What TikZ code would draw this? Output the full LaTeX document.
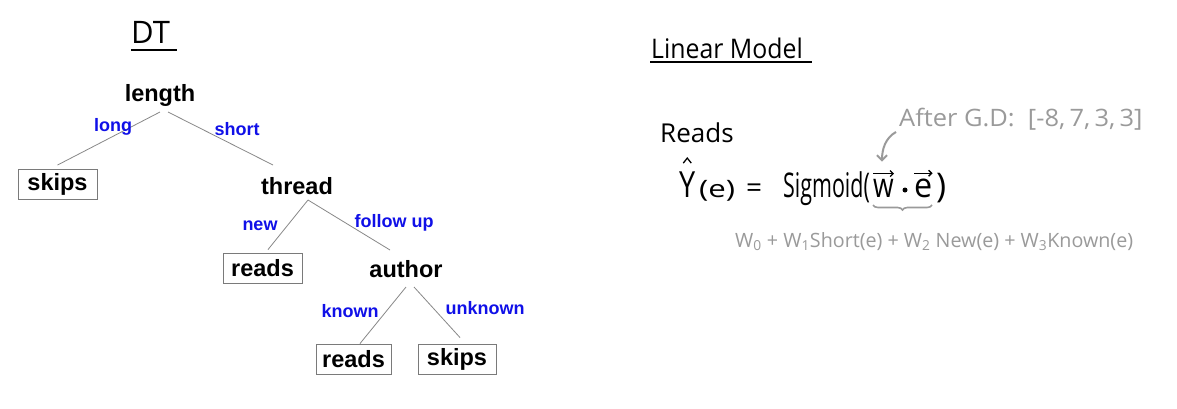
\documentclass[tikz,border=0pt]{standalone}
\usepackage{fontspec}
\setmainfont{Liberation Sans}
\newfontfamily\hand{Open Sans}
\usetikzlibrary{arrows.meta,decorations.pathreplacing}
\definecolor{edgegray}{HTML}{888888}
\definecolor{boxgray}{HTML}{7A7A7A}
\definecolor{handgray}{HTML}{9A9A9A}
\definecolor{lblue}{HTML}{1010E8}
\tikzset{
  tnode/.style={font=\fontsize{23.5}{24}\selectfont\bfseries, inner sep=0pt},
  leaf/.style={draw=boxgray, line width=0.9pt, font=\fontsize{23.5}{24}\selectfont\bfseries, inner sep=0pt, minimum height=30pt},
  elabel/.style={font=\fontsize{18}{18}\selectfont\bfseries, text=lblue, inner sep=0pt},
  edge/.style={draw=edgegray, line width=0.8pt},
  hw/.style={font=\hand, inner sep=0pt, anchor=base west},
  hwgray/.style={hw, text=handgray},
  vecarrow/.style={line width=1.3pt, -{Straight Barb[length=3pt,width=6pt]}},
}
\newcommand{\fsz}[1]{\fontsize{#1}{#1}\selectfont}
\begin{document}
\begin{tikzpicture}[x=1pt,y=-1pt]
\useasboundingbox[fill=white] (0,0) rectangle (1177,408);
% ---------- DT title ----------
\node[hw, font=\hand\fsz{31}] (dt) at (131,43) {DT};
\coordinate (dtl) at (131,50);
\coordinate (dtr) at (177,50);
\draw[line width=2.4pt] (dtl) -- (dtr);
% ---------- tree ----------
\node[tnode] (length) at (160,95) {length};
\node[leaf, minimum width=79pt] (skipsA) at (57.5,184.5) {skips};
\node[tnode] (thread) at (297,186) {thread};
\node[leaf, minimum width=79pt] (readsA) at (262.5,268) {reads};
\node[tnode] (author) at (406,269) {author};
\node[leaf, minimum width=75pt] (readsB) at (353.5,359) {reads};
\node[leaf, minimum width=78pt] (skipsB) at (457,359) {skips};
\draw[edge] ([shift={(0,17)}]length.center) -- ([shift={(0,-4)}]skipsA.north);
\draw[edge] ([shift={(8,17)}]length.center) -- ([shift={(-24,-21)}]thread.center);
\draw[edge] ([shift={(11,14)}]thread.center) -- ([shift={(5.5,-3)}]readsA.north);
\draw[edge] ([shift={(11,14)}]thread.center) -- ([shift={(-16,-19)}]author.center);
\draw[edge] ([shift={(0,18)}]author.center) -- ([shift={(6.5,0)}]readsB.north);
\draw[edge] ([shift={(8,18)}]author.center) -- ([shift={(3,-6)}]skipsB.north);
\node[elabel] (lLong) at (113,127) {long};
\node[elabel] (lShort) at (237,129) {short};
\node[elabel] (lNew) at (260,226) {new};
\node[elabel] (lFollow) at (394,223) {follow up};
\node[elabel] (lKnown) at (350,311) {known};
\node[elabel] (lUnknown) at (485,308) {unknown};
% ---------- Linear model ----------
\node[hw, font=\hand\fsz{27}] (lm) at (651,58) {\scalebox{0.92}[1]{Linear Model}};
\coordinate (lml) at (650,62);
\coordinate (lmr) at (812,62);
\draw[line width=2pt] (lml) -- (lmr);
\node[hw, font=\hand\fsz{26}] (reads) at (660,142) {Reads};
\node[hwgray, font=\hand\fsz{24}] (after) at (899,126) {\scalebox{1.06}[1]{After G.D:\ \ [-8,\,7,\,3,\,3]}};
% equation
\node[hw, font=\hand\fsz{36}] (Y) at (679,197) {\scalebox{0.8}[1]{Y}};
\draw[line width=1.3pt] ([shift={(-4,-8)}]Y.north) -- ([shift={(0,-13)}]Y.north) -- ([shift={(4,-8)}]Y.north);
\node[hw, font=\hand\fsz{24}] (Ye) at (699,197) {\scalebox{1.3}[1]{(e)}};
\node[hw, font=\hand\fsz{28}] (eq) at (746,197) {=};
\node[hw, font=\hand\fsz{34}] (sig) at (783,197) {\scalebox{0.63}[1]{Sigmoid(}};
\node[hw, font=\hand\fsz{34}] (w) at (873,197) {\scalebox{0.78}[1]{w}};
\node[circle, fill=black, inner sep=0pt, minimum size=5pt] (dot) at (905,190) {};
\node[hw, font=\hand\fsz{34}] (e) at (914,197) {\scalebox{0.95}[1]{e}};
\node[hw, font=\hand\fsz{34}] (rp) at (936,197) {)};
\draw[vecarrow] ([yshift=5pt]w.north west) -- ([yshift=5pt]w.north east);
\draw[vecarrow] ([yshift=5pt]e.north west) -- ([yshift=5pt]e.north east);
% gray arrow and brace
\draw[handgray, line width=2pt, -{Straight Barb[length=5pt,width=10pt]}] ([shift={(-3,2)}]after.south west) .. controls (885,138) and (882,150) .. ([shift={(9,-17)}]w.north west);
\coordinate (brl) at (873,205);
\coordinate (brr) at (932,205);
\draw[handgray, line width=1.6pt, decorate, decoration={brace, mirror, amplitude=5pt}] (brl) -- (brr);
\node[hwgray, font=\hand\fsz{19.7}] (wsum) at (735,247) {W\textsubscript{0} + W\textsubscript{1}Short(e) + W\textsubscript{2} New(e) + W\textsubscript{3}Known(e)};
\end{tikzpicture}
\end{document}
